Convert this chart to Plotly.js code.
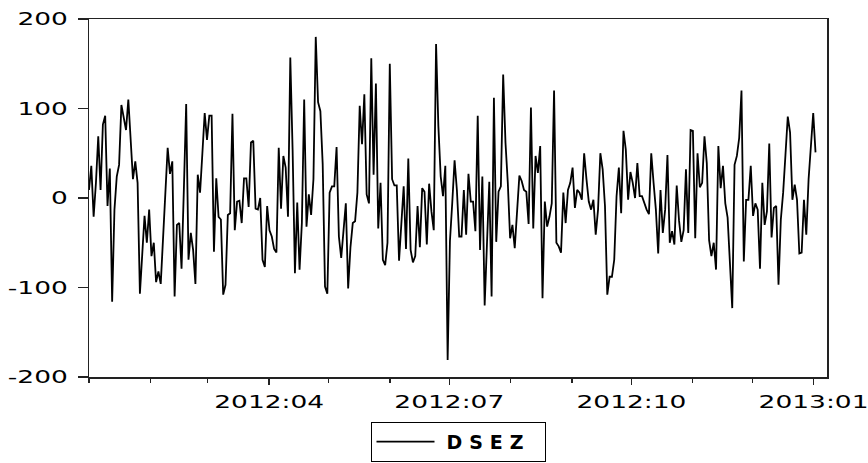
<!DOCTYPE html>
<html><head><meta charset="utf-8">
<script src="https://cdn.plot.ly/plotly-3.0.1.min.js"></script>
<style>html,body{margin:0;padding:0;background:#fff;} #chart{width:868px;height:463px;}</style>
</head><body><div id="chart"></div>
<script>
const seriesName = 'DSEZ';
const firstObs = [2012, 1, 1];
const lastObs = [2013, 1, 2];
const dsez = [
  9, 36, -21, 17, 69, 9, 82, 92, -9, 33,
  -116, -13, 24, 37, 104, 90, 76, 110, 62,
  21, 41, 17, -107, -60,
  -20, -50, -13, -65, -50, -94, -82, -96, -47, 5,
  56, 27, 41, -110, -30, -28, -79, 10,
  105, -69, -39, -58, -96, 26, 6, 50, 95, 65, 92, 92,
  -60, 22, -21, -24, -108, -97, -19, -17, 94, -36,
  -4, -3, -28, 22, 22, -10, 62, 64, -12, -13,
  0, -69, -77, -9, -36, -43, -57, -61, 56, -12,
  47, 34, -21, 157, 54, -84, -5, -80, -28, 110,
  -32, 4, -19, 21, 180, 107, 97, 38, -99,
  -107, 6, 13, 13, 57, -43, -67, -32, -6,
  -101, -55, -28, -26, 6, 103, 60, 116, 4, -6,
  156, 26, 128, -34, 17, -69, -75, -50, 150, 21,
  14, 14, -70, -24, 13, -57, 44, -58, -72, -65,
  -9, -55, 11, 7, -52, 16, -15, -36, 172, 80,
  24, 2, 36, -181, -48, -5, 42,
  9, -43, -43, 9, -41, 27, -4, -4, -37, 92,
  -58, 24, -120, -43, 18, -110, 112, -49, 7, 13,
  138, 62, 17, -45, -30, -56, -11, 25, 19, 9,
  7, -29, 101, -34, 47, 28, 58, -112, -4, -32,
  -21, -6, 120, -50, -54, -61, 6, -28, 9, 17, 34,
  -11, 9, 6, -2, 50, 21, -4, -13, -2, -41,
  -13, 50, 32, -9, -108, -88, -88, -69, 2, 34,
  -17, 75, 54, -2, 29, 17, 0, 39, 2, 2,
  -6, -13, -18, 50, 17, -13, -62, 9, -39, -13,
  48, -50, -37, -52, 14, -25, -49, -36,
  32, -39, 76, 75, -45,
  50, 12, 17, 69, 39, -47, -65, -50, -80, 58,
  11, 36, -6, -22, -73, -123, 37, 47, 67, 120,
  -71, -2, -2, 36, -20, -6, -13, -79, 17, -30,
  -15, 61, -44, -11, -9, -97, -24, 6, 48, 91, 73,
  -2, 15, -2, -62, -61, -2, -41, 21, 58, 95, 51
];
const yTickVals = [200, 100, 0, -100, -200];
const yTickText = ['200', '100', '0', '-100', '-200'];
const xTickVals = ['2012-04-01', '2012-07-01', '2012-10-01', '2013-01-01'];
const xTickText = ['2012:04', '2012:07', '2012:10', '2013:01'];

// observations are equally spaced between the first and last observation dates
function pad(n) { return String(n).padStart(2, '0'); }
const t0 = Date.UTC(firstObs[0], firstObs[1] - 1, firstObs[2]);
const t1 = Date.UTC(lastObs[0], lastObs[1] - 1, lastObs[2]);
const obsDates = dsez.map((_, i) => {
  const d = new Date(t0 + i * (t1 - t0) / (dsez.length - 1));
  return d.getUTCFullYear() + '-' + pad(d.getUTCMonth() + 1) + '-' + pad(d.getUTCDate()) +
    ' ' + pad(d.getUTCHours()) + ':' + pad(d.getUTCMinutes());
});

const axisColor = '#222';
const data = [{
  type: 'scatter', mode: 'lines', name: seriesName,
  x: obsDates, y: dsez,
  line: {color: '#000', width: 1.8}
}];

const layout = {
  width: 868, height: 463,
  margin: {l: 89, r: 41, t: 19, b: 86, autoexpand: false},
  paper_bgcolor: '#fff', plot_bgcolor: '#fff',
  font: {family: 'DejaVu Sans', size: 18, color: '#000'},
  showlegend: true,
  legend: {
    x: 0.5, xanchor: 'center', y: -0.2366, yanchor: 'bottom',
    orientation: 'h', bordercolor: '#000', borderwidth: 1,
    itemwidth: 58, entrywidth: 100, entrywidthmode: 'pixels',
    bgcolor: 'rgba(255,255,255,0)',
    font: {family: 'DejaVu Sans', size: 19, weight: 'bold', color: '#000'}
  },
  xaxis: {
    type: 'date', range: ['2012-01-01', '2013-01-07 19:00'],
    tickmode: 'array', tickvals: xTickVals, ticktext: xTickText,
    ticks: 'outside', ticklen: 6, tickwidth: 1.5, tickcolor: axisColor,
    showline: true, linecolor: axisColor, linewidth: 1.5, mirror: true,
    showgrid: false, zeroline: false, ticklabelstandoff: 2,
    minor: {dtick: 'M1', tick0: '2012-01-01', ticks: 'outside', ticklen: 4, tickwidth: 1.2, tickcolor: axisColor, showgrid: false},
    tickfont: {family: 'DejaVu Sans', size: 18, color: '#000'}
  },
  yaxis: {
    range: [-200, 200],
    tickmode: 'array', tickvals: yTickVals, ticktext: yTickText,
    ticks: 'outside', ticklen: 10, tickwidth: 1.5, tickcolor: axisColor,
    showline: true, linecolor: axisColor, linewidth: 1.5, mirror: true,
    showgrid: false, zeroline: false, ticklabelstandoff: 6,
    tickfont: {family: 'DejaVu Sans', size: 18, color: '#000'}
  }
};

Plotly.newPlot('chart', data, layout, {staticPlot: true}).then(gd => {
  gd.querySelectorAll('.xtick text, .ytick text').forEach(t => {
    const w = t.getComputedTextLength();
    t.setAttribute('textLength', (w * 1.47).toFixed(1));
    t.setAttribute('lengthAdjust', 'spacingAndGlyphs');
  });
  gd.querySelectorAll('.legendtext').forEach(t => {
    t.setAttribute('textLength', '77');
    t.setAttribute('lengthAdjust', 'spacing');
    t.setAttribute('dx', '7');
  });
});
</script>
</body></html>
